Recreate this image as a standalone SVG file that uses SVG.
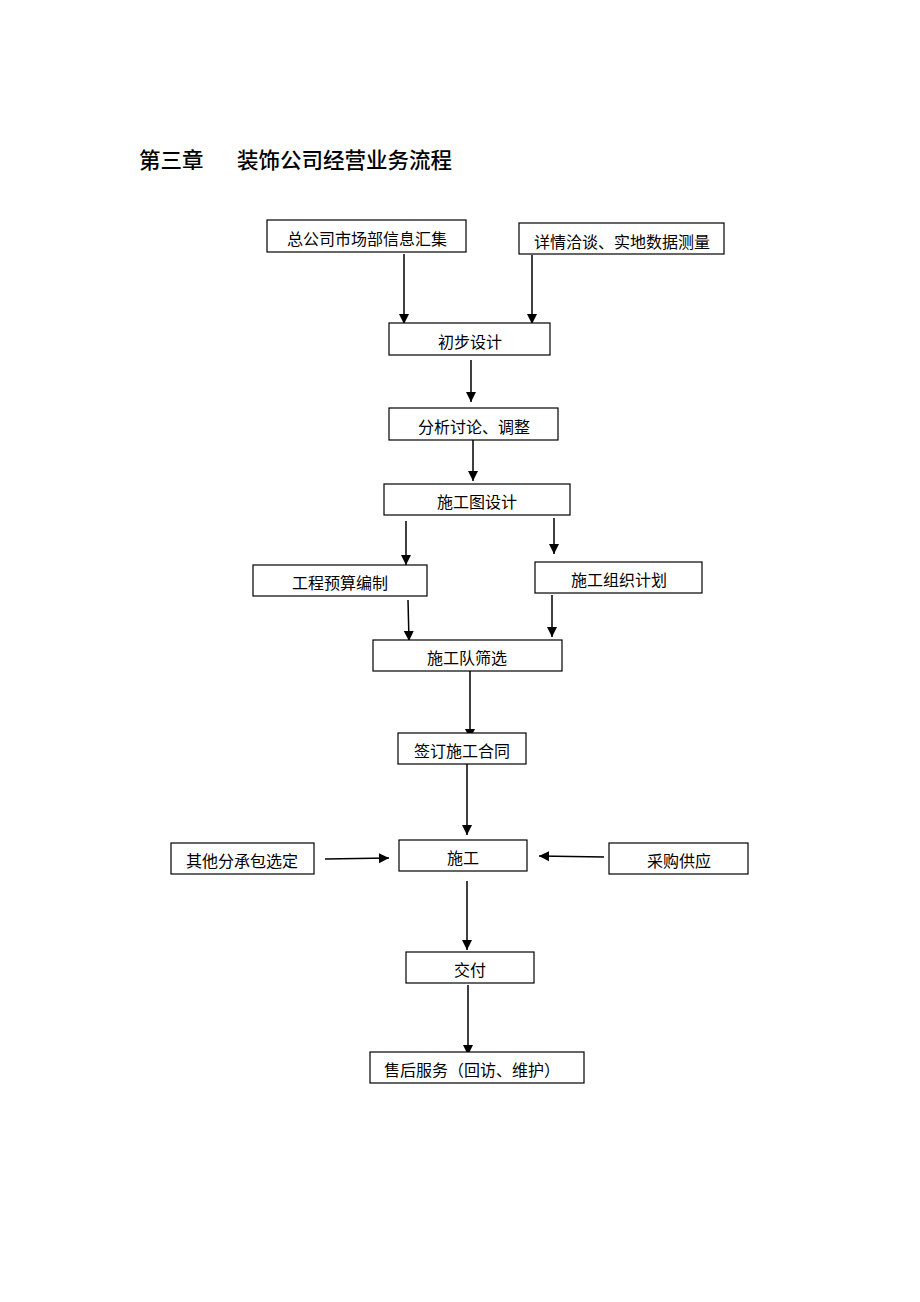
<svg xmlns="http://www.w3.org/2000/svg" width="920" height="1302" viewBox="0 0 920 1302">
<style>
.box{fill:#fff;stroke:#000;stroke-width:1.2}
.t{font-family:"Liberation Serif","Noto Sans CJK SC",serif;font-size:16px;fill:#000;text-anchor:middle}
.title{font-family:"Noto Sans CJK SC","Liberation Sans",sans-serif;font-size:21.5px;font-weight:500;fill:#000}
.c{stroke:#000;stroke-width:1.5;fill:none;marker-end:url(#ah)}
</style>
<defs>
<marker id="ah" markerUnits="userSpaceOnUse" markerWidth="10" markerHeight="12" refX="10" refY="5" orient="auto" viewBox="0 0 10 10">
<path d="M0,0 L10,5 L0,10 Z" fill="#000"/>
</marker>
</defs>
<rect width="920" height="1302" fill="#fff"/>
<g id="title">
<text class="title" x="139" y="168">第三章</text>
<text class="title" x="237" y="168">装饰公司经营业务流程</text>
</g>
<g id="connectors">
<line class="c" x1="404" y1="254" x2="404" y2="324"/>
<line class="c" x1="532" y1="255" x2="532" y2="324"/>
<line class="c" x1="471" y1="360" x2="471" y2="402"/>
<line class="c" x1="473" y1="432" x2="473" y2="481"/>
<line class="c" x1="406" y1="521" x2="406" y2="565"/>
<line class="c" x1="554" y1="518" x2="554" y2="554"/>
<line class="c" x1="408" y1="600" x2="409" y2="641"/>
<line class="c" x1="552" y1="595" x2="552" y2="637"/>
<line class="c" x1="470" y1="671" x2="470" y2="739"/>
<line class="c" x1="467" y1="764" x2="467" y2="835"/>
<line class="c" x1="467" y1="881" x2="467" y2="950"/>
<line class="c" x1="468" y1="985" x2="468" y2="1055"/>
<line class="c" x1="325" y1="859" x2="389" y2="858"/>
<line class="c" x1="604" y1="857" x2="539" y2="856"/>
</g>
<g id="n1"><rect class="box" x="267" y="220" width="199" height="32"/><text class="t" x="367" y="245">总公司市场部信息汇集</text></g>
<g id="n2"><rect class="box" x="519" y="223" width="205" height="31"/><text class="t" x="622" y="248">详情洽谈、实地数据测量</text></g>
<g id="n3"><rect class="box" x="389" y="323" width="161" height="32"/><text class="t" x="470" y="348">初步设计</text></g>
<g id="n4"><rect class="box" x="389" y="408" width="169" height="32"/><text class="t" x="474" y="433">分析讨论、调整</text></g>
<g id="n5"><rect class="box" x="384" y="484" width="186" height="31"/><text class="t" x="477" y="508">施工图设计</text></g>
<g id="n6"><rect class="box" x="253" y="565" width="174" height="31"/><text class="t" x="340" y="589">工程预算编制</text></g>
<g id="n7"><rect class="box" x="535" y="562" width="167" height="31"/><text class="t" x="619" y="586">施工组织计划</text></g>
<g id="n8"><rect class="box" x="373" y="640" width="189" height="31"/><text class="t" x="467" y="664">施工队筛选</text></g>
<g id="n9"><rect class="box" x="398" y="733" width="128" height="31"/><text class="t" x="462" y="757">签订施工合同</text></g>
<g id="n10"><rect class="box" x="399" y="840" width="128" height="31"/><text class="t" x="463" y="864">施工</text></g>
<g id="n11"><rect class="box" x="171" y="843" width="143" height="31"/><text class="t" x="242" y="867">其他分承包选定</text></g>
<g id="n12"><rect class="box" x="609" y="843" width="139" height="31"/><text class="t" x="679" y="867">采购供应</text></g>
<g id="n13"><rect class="box" x="406" y="952" width="128" height="31"/><text class="t" x="470" y="976">交付</text></g>
<g id="n14"><rect class="box" x="370" y="1052" width="214" height="31"/><text class="t" x="472" y="1076">售后服务（回访、维护）</text></g>
</svg>
